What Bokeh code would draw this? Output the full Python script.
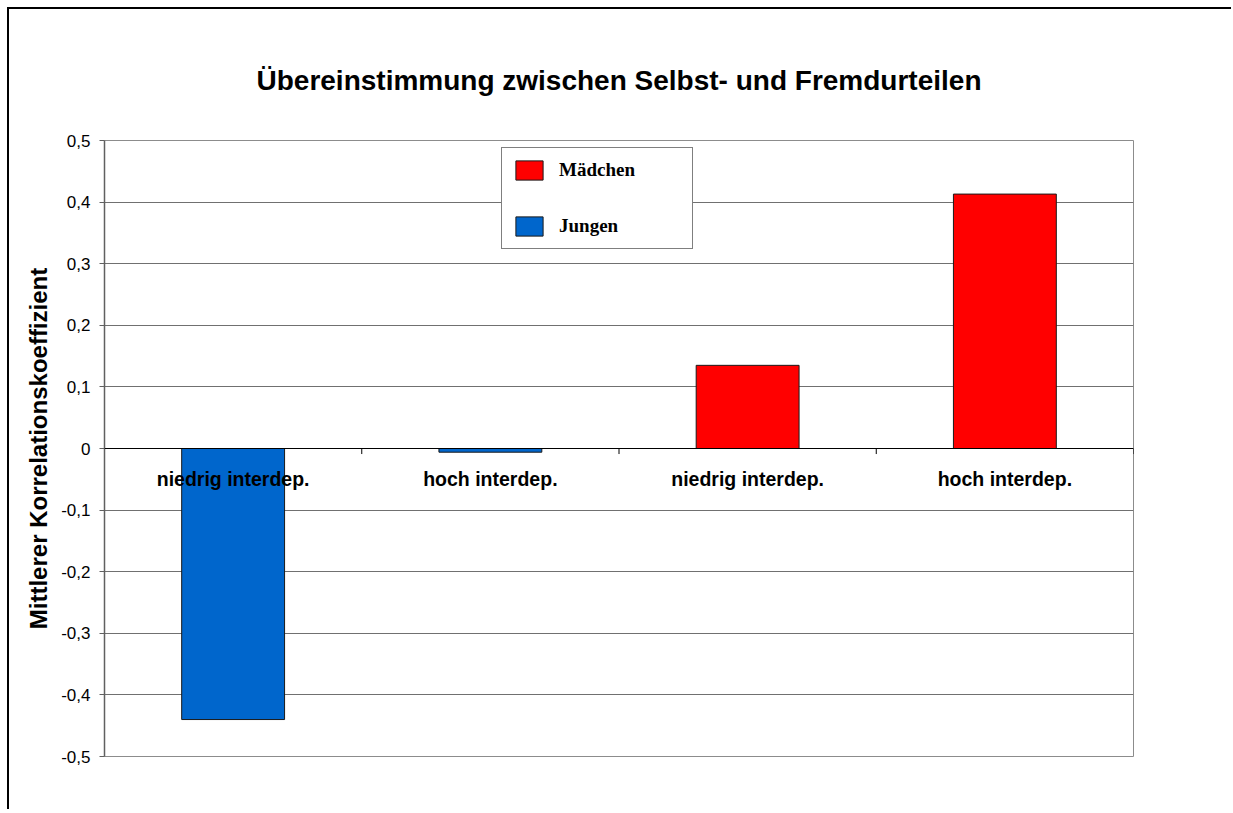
from bokeh.plotting import figure
from bokeh.models import (Range1d, FixedTicker, CustomJSTickFormatter, Span,
                          Legend, LegendItem, ColumnDataSource)
from bokeh.core.properties import value
from bokeh.embed import file_html
from bokeh.resources import INLINE

# ---- data ----
title_text = "Übereinstimmung zwischen Selbst- und Fremdurteilen"
y_label = "Mittlerer Korrelationskoeffizient"
levels = ["niedrig interdep.", "hoch interdep."]
series_names = ["Jungen", "Mädchen"]
jungen = [-0.44, -0.006]
maedchen = [0.135, 0.413]
yticks = [-0.5, -0.4, -0.3, -0.2, -0.1, 0.0, 0.1, 0.2, 0.3, 0.4, 0.5]

# category order on the x axis: Jungen (2 levels) then Mädchen (2 levels)
cat_labels = levels + levels
n_cat = len(cat_labels)
centers = [i + 0.5 for i in range(n_cat)]
boundaries = [float(i) for i in range(n_cat + 1)]

W, H = 1224, 802
p = figure(width=W, height=H, output_backend="svg", toolbar_location=None,
           x_range=Range1d(0, n_cat), y_range=Range1d(-0.5, 0.5),
           min_border_left=95, min_border_top=131, min_border_right=100,
           min_border_bottom=55)
p.styles = {"margin-left": "7px", "margin-top": "7px",
            "border-left": "2px solid black", "border-top": "2px solid black"}

p.title.text = title_text
p.title.align = "center"
p.title.text_font = "Liberation Sans"
p.title.text_font_style = "bold"
p.title.text_font_size = "28px"
p.title.text_color = "black"
p.title.standoff = 90

p.background_fill_color = "white"
p.border_fill_color = "white"
p.outline_line_color = "#8c8c8c"
p.outline_line_width = 1

p.xaxis.visible = False
p.xgrid.visible = False
p.ygrid.grid_line_color = "#707070"
p.ygrid.grid_line_width = 1
p.ygrid.ticker = FixedTicker(ticks=yticks)

yax = p.yaxis[0]
yax.ticker = FixedTicker(ticks=yticks)
yax.formatter = CustomJSTickFormatter(
    code="var v = Math.round(tick*10)/10; if (v === 0) return '0'; return v.toFixed(1).replace('.', ',');")
yax.axis_line_color = "#606060"
yax.axis_line_width = 1.5
yax.major_tick_line_color = "#606060"
yax.major_tick_out = 5
yax.major_tick_in = 0
yax.minor_tick_line_color = None
yax.major_label_text_font = "Liberation Sans"
yax.major_label_text_font_size = "17px"
yax.major_label_text_color = "black"
yax.major_label_standoff = 9
yax.axis_label = y_label
yax.axis_label_text_font = "Liberation Sans"
yax.axis_label_text_font_style = "bold"
yax.axis_label_text_font_size = "24px"
yax.axis_label_text_color = "black"
yax.axis_label_standoff = 6

# bars
j_src = ColumnDataSource(dict(x=centers[:2], top=jungen))
m_src = ColumnDataSource(dict(x=centers[2:], top=maedchen))
rj = p.vbar(x="x", top="top", bottom=0, width=0.4, source=j_src,
            fill_color="#0066CC", line_color="#1a1a1a", line_width=1)
rm = p.vbar(x="x", top="top", bottom=0, width=0.4, source=m_src,
            fill_color="#FF0000", line_color="#1a1a1a", line_width=1)

# zero (category) axis line and its ticks
p.add_layout(Span(location=0, dimension="width", line_color="black", line_width=1))
p.segment(x0=boundaries, y0=[0] * len(boundaries), x1=boundaries,
          y1=[-0.009] * len(boundaries), line_color="black", line_width=1)

# category labels on the zero line
p.text(x=centers, y=[0] * n_cat, text=cat_labels, y_offset=30,
       text_align="center", text_baseline="middle",
       text_font=value("Liberation Sans"), text_font_style="bold",
       text_font_size="19.5px", text_color="black")

legend = Legend(items=[LegendItem(label=series_names[1], renderers=[rm]),
                       LegendItem(label=series_names[0], renderers=[rj])],
                location=(397, 507))
legend.border_line_color = "black"
legend.border_line_width = 1
legend.background_fill_color = "white"
legend.background_fill_alpha = 1
legend.padding = 10
legend.margin = 0
legend.spacing = 32
legend.glyph_width = 34
legend.glyph_height = 24
legend.label_standoff = 13
legend.label_width = 123
legend.label_text_font = "Liberation Serif"
legend.label_text_font_style = "bold"
legend.label_text_font_size = "19px"
legend.label_text_color = "black"
legend.label_text_baseline = "middle"
p.add_layout(legend)

open("out.html", "w").write(file_html(p, INLINE))
